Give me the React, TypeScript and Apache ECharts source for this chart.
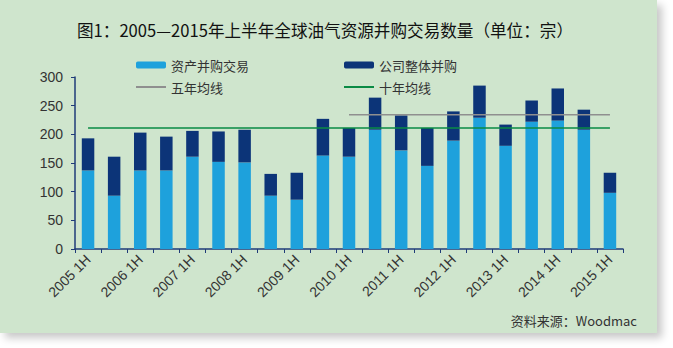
import React, { useEffect, useRef } from "react";
import * as echarts from "echarts";

const categories = [
  "2005 1H", "2005 2H", "2006 1H", "2006 2H", "2007 1H", "2007 2H", "2008 1H", "2008 2H",
  "2009 1H", "2009 2H", "2010 1H", "2010 2H", "2011 1H", "2011 2H", "2012 1H", "2012 2H",
  "2013 1H", "2013 2H", "2014 1H", "2014 2H", "2015 1H",
];
const assetDeals = [137, 93, 137, 137, 161, 152, 151, 93, 86, 163, 161, 208, 172, 145, 189, 229, 180, 222, 224, 208, 98];
const corporateDeals = [56, 68, 66, 59, 45, 53, 57, 38, 47, 64, 50, 56, 61, 66, 51, 56, 37, 37, 56, 35, 35];
const fiveYearAvg = ["-", "-", "-", "-", "-", "-", "-", "-", "-", "-", 234, 234, 234, 234, 234, 234, 234, 234, 234, 234, 234];
const tenYearAvg = [211, 211, 211, 211, 211, 211, 211, 211, 211, 211, 211, 211, 211, 211, 211, 211, 211, 211, 211, 211, 211];
const yTicks = [0, 50, 100, 150, 200, 250, 300];

const FONT = "'Liberation Sans', Arial, 'Noto Sans CJK SC', sans-serif";
const CJK = "'Noto Sans CJK SC', 'Liberation Sans', sans-serif";

export default function App() {
  const ref = useRef<HTMLDivElement>(null);
  useEffect(() => {
    const chart = echarts.init(ref.current!, undefined, { renderer: "svg" });
    const axisColor = "#1f3b78";
    const legendText = { fontFamily: CJK, fontSize: 13, color: "#333", lineHeight: 14 };
    chart.setOption({
      animation: false,
      backgroundColor: "transparent",
      title: {
        text: "图1：2005—2015年上半年全球油气资源并购交易数量（单位：宗）",
        left: 320,
        textAlign: "center",
        top: 17,
        textStyle: { fontFamily: CJK, fontSize: 16.6, fontWeight: "normal", color: "#111" },
      },
      legend: [
        {
          left: 130, top: 53, orient: "vertical", itemGap: 8, itemWidth: 30, itemHeight: 7,
          data: ["资产并购交易", { name: "五年均线", itemStyle: { opacity: 0 } }],
          textStyle: legendText,
        },
        {
          left: 338, top: 53, orient: "vertical", itemGap: 8, itemWidth: 30, itemHeight: 7,
          data: ["公司整体并购", { name: "十年均线", itemStyle: { opacity: 0 } }],
          textStyle: legendText,
        },
      ],
      graphic: [
        {
          type: "text",
          right: 36,
          top: 314,
          style: { text: "资料来源：Woodmac", fontFamily: CJK, fontSize: 13, fill: "#333" },
        },
      ],
      grid: { left: 75, right: 50, top: 77, bottom: 99 },
      xAxis: {
        type: "category",
        data: categories,
        axisLine: { lineStyle: { color: axisColor, width: 1.5 } },
        axisTick: { show: true, interval: 0, length: 4, lineStyle: { color: axisColor } },
        axisLabel: { interval: 1, rotate: 45, fontSize: 14, fontFamily: FONT, color: "#333", margin: 8 },
      },
      yAxis: {
        type: "value",
        min: yTicks[0],
        max: yTicks[yTicks.length - 1],
        interval: 50,
        splitLine: { show: false },
        axisLine: { show: true, lineStyle: { color: axisColor, width: 1.5 } },
        axisTick: { show: true, length: 4, lineStyle: { color: axisColor } },
        axisLabel: { fontSize: 14, fontFamily: FONT, color: "#333", margin: 12 },
      },
      series: [
        {
          name: "资产并购交易", type: "bar", stack: "total", data: assetDeals,
          barWidth: 12.5, itemStyle: { color: "#1ea1dc" },
        },
        {
          name: "公司整体并购", type: "bar", stack: "total", data: corporateDeals,
          barWidth: 12.5, itemStyle: { color: "#0c3478" },
        },
        {
          name: "五年均线", type: "line", data: fiveYearAvg, symbol: "none",
          lineStyle: { color: "#8f8f8f", width: 1.5 }, itemStyle: { color: "#8f8f8f" },
        },
        {
          name: "十年均线", type: "line", data: tenYearAvg, symbol: "none",
          lineStyle: { color: "#0a8a44", width: 1.5 }, itemStyle: { color: "#0a8a44" },
        },
      ],
    });
    return () => chart.dispose();
  }, []);
  return (
    <div style={{ position: "fixed", left: 0, top: 0, width: 673, height: 348, background: "#fff" }}>
      <div
        style={{
          position: "absolute", left: 0, top: 0, width: 657, height: 333,
          background: "#cfe5cd", boxShadow: "5px 5px 8px rgba(0,0,0,0.22)",
        }}
      />
      <div ref={ref} style={{ position: "absolute", left: 0, top: 0, width: 673, height: 348 }} />
    </div>
  );
}
